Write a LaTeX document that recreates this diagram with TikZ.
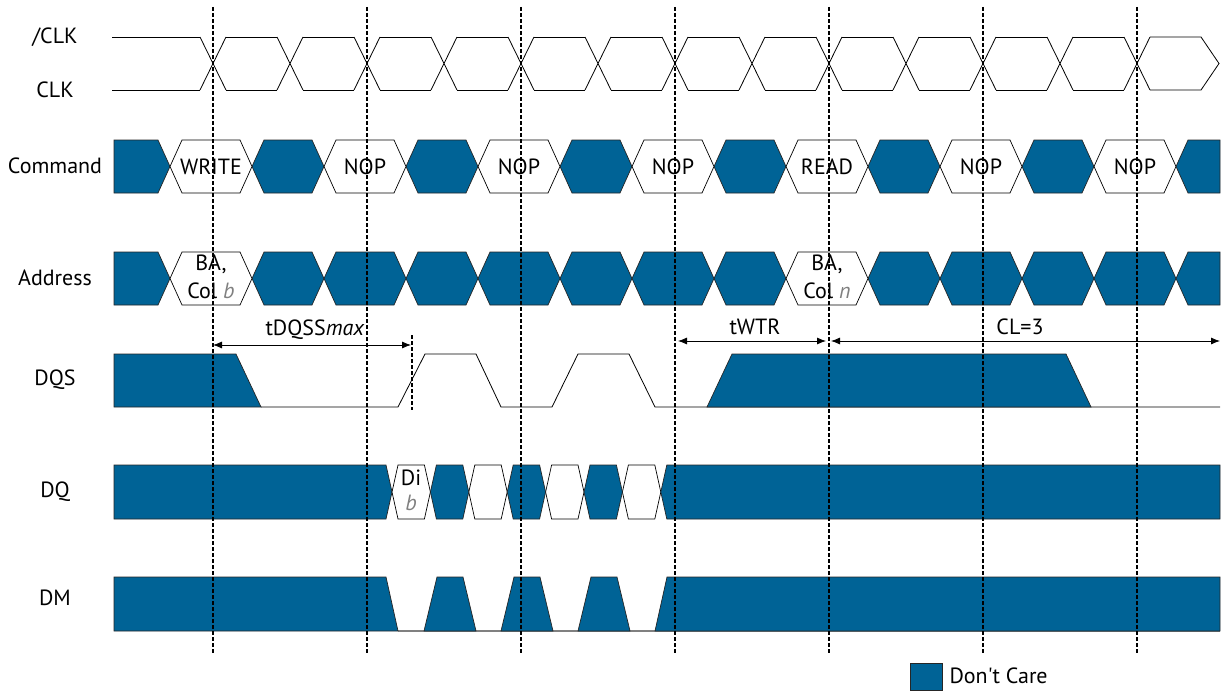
\documentclass[tikz,border=0pt]{standalone}
\usepackage{fontspec}
\setmainfont{PT Sans}[Ligatures=TeXOff]
\usetikzlibrary{arrows.meta,calc}

\definecolor{dcblue}{RGB}{0,99,150}
\definecolor{txtgray}{RGB}{128,128,128}

% from, to, middle y, half height, slant, style
\newcommand{\hexbox}[6]{%
  \filldraw[#6] (#1,#3) -- ({#1+#5},{#3-#4}) -- ({#2-#5},{#3-#4}) -- (#2,#3) -- ({#2-#5},{#3+#4}) -- ({#1+#5},{#3+#4}) -- cycle;}

\begin{document}
\begin{tikzpicture}[x=1pt, y=-1pt, font=\fontsize{22}{26}\selectfont,
  dc/.style={fill=dcblue, draw=black!85, line width=0.7pt},
  hold/.style={fill=white, draw=black, line width=0.7pt},
  wave/.style={draw=black, line width=0.8pt},
  grid/.style={draw=black, line width=1.1pt, dash pattern=on 4pt off 2pt},
  dim/.style={draw=black, line width=0.8pt, {Latex[length=9pt,width=7pt]}-{Latex[length=9pt,width=7pt]}}]

\useasboundingbox (0,0) rectangle (1222,690);

% signal names
\node (nclk) at (55,37) {/CLK};
\node (clk) at (55,90) {CLK};
\node (cmd) at (55,166) {Command};
\node (addr) at (55,278) {Address};
\node (dqs) at (55,380) {DQS};
\node (dq) at (55,492) {DQ};
\node (dm) at (55,598) {DM};

% clock pair
\draw[wave] (112,37) -- (200,37) (112,90) -- (200,90);
\foreach \k in {0,...,12} {
  \draw[wave] ({213+77*\k-13},37) -- ({213+77*\k+13},90) ({213+77*\k-13},90) -- ({213+77*\k+13},37);
}
\foreach \k in {0,...,11} {
  \draw[wave] ({213+77*\k+13},37) -- ({290+77*\k-13},37) ({213+77*\k+13},90) -- ({290+77*\k-13},90);
}
\draw[wave] (1150,37) -- (1201,37) -- (1219,63.5) -- (1201,90) -- (1150,90);

% command bus
\filldraw[dc] (114,140) -- (158,140) -- (170,166.5) -- (158,193) -- (114,193) -- cycle;
\foreach \c in {213,367,521,675,829,983} {
  \hexbox{\c+39}{\c+111}{166.5}{26.5}{12}{dc}
}
\foreach \c/\txt [count=\i] in {213/WRITE, 367/NOP, 521/NOP, 675/NOP, 829/READ, 983/NOP, 1137/NOP} {
  \hexbox{\c-43}{\c+39}{166.5}{26.5}{12}{hold}
  \node (cmd\i) at (\c-2,166.5) {\txt};
}
\filldraw[dc] (1176,166.5) -- (1188,140) -- (1220,140) -- (1220,193) -- (1188,193) -- cycle;

% address bus
\filldraw[dc] (114,252) -- (158,252) -- (170,278.5) -- (158,305) -- (114,305) -- cycle;
\foreach \c in {213,367,521,675,829,983} {
  \hexbox{\c+39}{\c+111}{278.5}{26.5}{12}{dc}
}
\foreach \c in {367,521,675,983,1137} {
  \hexbox{\c-43}{\c+39}{278.5}{26.5}{12}{dc}
}
\hexbox{170}{252}{278.5}{26.5}{12}{hold}
\hexbox{786}{868}{278.5}{26.5}{12}{hold}
\filldraw[dc] (1176,278.5) -- (1188,252) -- (1220,252) -- (1220,305) -- (1188,305) -- cycle;
\node[align=center, font=\fontsize{22}{28}\selectfont] (adrb) at (211,277) {BA,\\Col \textcolor{txtgray}{\textit{b}}};
\node[align=center, font=\fontsize{22}{28}\selectfont] (adrn) at (827,277) {BA,\\Col \textcolor{txtgray}{\textit{n}}};

% DQS
\filldraw[dc] (114,354) -- (236,354) -- (261,407) -- (114,407) -- cycle;
\draw[wave] (261,407) -- (398,407) -- (425,354) -- (476,354) -- (501,407) -- (552,407) -- (578,354) -- (629,354) -- (655,407) -- (1220,407);
\filldraw[dc] (707,407) -- (732,354) -- (1066,354) -- (1091,407) -- cycle;

% DQ
\filldraw[dc] (114,465) -- (386,465) -- (392,492) -- (386,519) -- (114,519) -- cycle;
\foreach \i in {0,2,4,6} {
  \hexbox{392+38.4*\i}{430.4+38.4*\i}{492}{27}{6}{hold}
}
\foreach \i in {1,3,5} {
  \hexbox{392+38.4*\i}{430.4+38.4*\i}{492}{27}{6}{dc}
}
\filldraw[dc] (660.8,492) -- (666.8,465) -- (1220,465) -- (1220,519) -- (666.8,519) -- cycle;
\node[align=center, font=\fontsize{22}{25}\selectfont] (dib) at (411,490) {Di\\\textcolor{txtgray}{\textit{b}}};

% DM
\draw[line width=1.2pt, draw=black!50] (398,631) -- (1220,631);
\filldraw[dc] (114,577) -- (386,577) -- (398,631) -- (114,631) -- cycle;
\foreach \x in {424,501,578} {
  \filldraw[dc] (\x,631) -- (\x+13,577) -- (\x+39,577) -- (\x+52,631) -- cycle;
}
\filldraw[dc] (655,631) -- (667,577) -- (1220,577) -- (1220,631) -- cycle;

% clock edges
\foreach \c [count=\i] in {213,367,521,675,829,983,1137} {
  \coordinate (g\i) at (\c,7);
  \draw[grid] (g\i) -- ++(0,646);
}
\coordinate (dqsa) at (412,335);
\coordinate (dqsb) at (412,410);
\draw[grid] (dqsa) -- (dqsb);

% timing parameters
\coordinate (dqssL) at (213,345);
\coordinate (dqssR) at (411,345);
\draw[dim] (dqssL) -- (dqssR);
\node (tdqss) at (315,330) {tDQSS\textit{max}};

\coordinate (wtrL) at (678,341);
\coordinate (wtrR) at (826,341);
\draw[dim] (wtrL) -- (wtrR);
\node (twtr) at (755,327) {tWTR};

\coordinate (clL) at (831,341);
\coordinate (clR) at (1220,341);
\draw[dim] (clL) -- (clR);
\node (cl) at (1020,327) {CL=3};

% legend
\filldraw[dc] (910,663) rectangle (942,690);
\node[anchor=west] (dclabel) at (946,676) {Don't Care};

\end{tikzpicture}
\end{document}
